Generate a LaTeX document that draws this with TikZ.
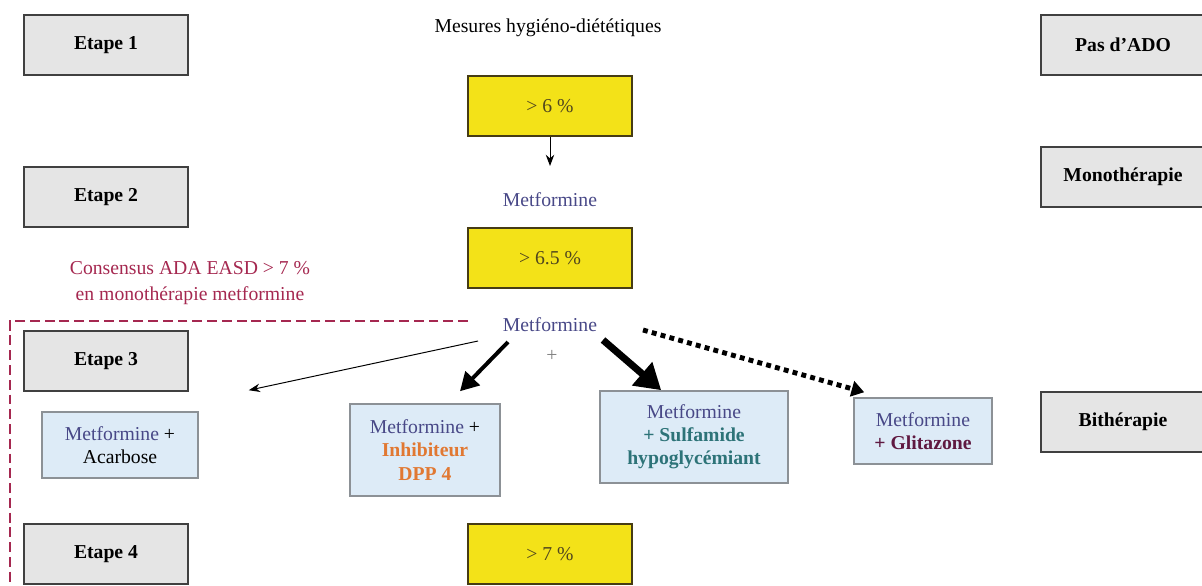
\documentclass[tikz,border=0pt]{standalone}
\usepackage{fontspec}
\setmainfont{Liberation Serif}
\usetikzlibrary{arrows.meta}
\definecolor{grisfond}{RGB}{229,229,229}
\definecolor{grisbord}{RGB}{64,64,64}
\definecolor{jaune}{RGB}{243,226,24}
\definecolor{jaunebord}{RGB}{70,60,20}
\definecolor{jaunetexte}{RGB}{80,70,30}
\definecolor{bleufond}{RGB}{221,235,247}
\definecolor{bleubord}{RGB}{140,145,150}
\definecolor{metbleu}{RGB}{72,72,135}
\definecolor{consrouge}{RGB}{165,40,80}
\definecolor{orangedpp}{RGB}{225,120,50}
\definecolor{sulfvert}{RGB}{45,115,120}
\definecolor{glitviolet}{RGB}{95,25,65}
\begin{document}
\begin{tikzpicture}[x=0.025cm,y=-0.025cm,
    font=\fontsize{14}{16.5}\selectfont,
    etape/.style={draw=grisbord,fill=grisfond,line width=1.4pt,minimum width=4.1cm,minimum height=1.5cm,font=\fontsize{14}{16.5}\selectfont\bfseries},
    seuil/.style={draw=jaunebord,fill=jaune,line width=1.1pt,minimum width=4.1cm,minimum height=1.5cm,text=jaunetexte},
    combi/.style={draw=bleubord,fill=bleufond,line width=1.1pt,align=center,inner sep=2pt},
    met/.style={text=metbleu},
    fine/.style={-{Stealth[length=8pt,width=6pt]},line width=0.7pt},
    epais/.style={-{Triangle[length=13pt,width=14pt]},line width=2.8pt},
    tresepais/.style={-{Triangle[length=18pt,width=21pt]},line width=5pt},
    pointille/.style={-{Triangle[length=9pt,width=11pt]},line width=3.5pt,dash pattern=on 3.5pt off 3pt}]
    \useasboundingbox (0,0) rectangle (1202,585);
    % colonne des etapes
    \node[etape] (e1) at (106,45) {Etape 1};
    \node[etape] (e2) at (106,197) {Etape 2};
    \node[etape] (e3) at (106,361) {Etape 3};
    \node[etape] (e4) at (106,554) {Etape 4};
    % colonne de droite
    \node[etape] (pas) at (1123,45) {Pas d'ADO};
    \node[etape] (mono) at (1123,177) {Monothérapie};
    \node[etape] (bi) at (1123,422) {Bithérapie};
    % seuils
    \node (mhd) at (548,28) {Mesures hygiéno-diététiques};
    \node[seuil] (s1) at (550,106) {> 6 \%};
    \node[met] (met1) at (550,200) {Metformine};
    \node[seuil] (s2) at (550,258) {> 6.5 \%};
    \node[met] (met2) at (550,325) {Metformine};
    \node[text=gray] (plus) at (552,356) {+};
    \node[seuil] (s3) at (550,554) {> 7 \%};
    \node[text=consrouge,align=center,font=\fontsize{14}{18.5}\selectfont] (cons) at (190,283) {Consensus ADA EASD > 7 \%\\en monothérapie metformine};
    \draw[consrouge,line width=1.4pt,dash pattern=on 7pt off 3.5pt] (468,321) -- (10,321) -- (10,590);
    % bitherapies
    \node[combi,minimum width=3.9cm,minimum height=1.65cm] (acarb) at (120,445) {\textcolor{metbleu}{Metformine} +\\Acarbose};
    \node[combi,minimum width=3.75cm,minimum height=2.3cm] (dpp) at (425,450) {\textcolor{metbleu}{Metformine} +\\{\color{orangedpp}\bfseries Inhibiteur}\\{\color{orangedpp}\bfseries DPP 4}};
    \node[combi,minimum width=4.7cm,minimum height=2.3cm] (sulf) at (694,437) {{\color{metbleu}Metformine}\\{\color{sulfvert}\bfseries + Sulfamide}\\{\color{sulfvert}\bfseries hypoglycémiant}};
    \node[combi,minimum width=3.45cm,minimum height=1.65cm] (glit) at (923,431) {{\color{metbleu}Metformine}\\{\color{glitviolet}\bfseries + Glitazone}};
    % fleches
    \draw[fine] (s1.south) -- ([yshift=0.55cm]met1.north);
    \draw[fine] ([shift={(-72,16)}]met2.center) -- ([shift={(50,-21)}]acarb.north east);
    \draw[epais] ([shift={(-42,17)}]met2.center) -- ([shift={(35,-12)}]dpp.north);
    \draw[tresepais] ([shift={(53,15)}]met2.center) -- ([shift={(62,0)}]sulf.north west);
    \draw[pointille] ([shift={(93,5)}]met2.center) -- ([shift={(11,-5)}]glit.north west);
\end{tikzpicture}
\end{document}
